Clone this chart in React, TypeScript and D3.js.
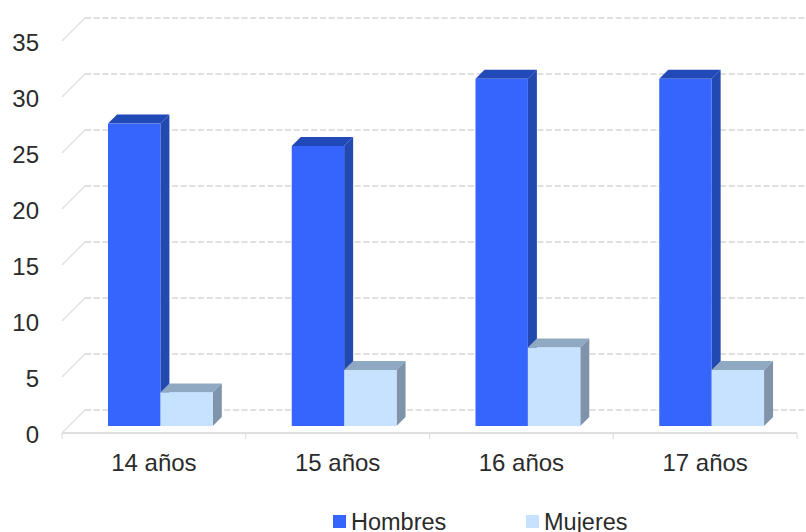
import React from "react";
import * as d3 from "d3";

const categories = ["14 años", "15 años", "16 años", "17 años"];
const hombres = [27, 25, 31, 31];
const mujeres = [3, 5, 7, 5];
const yTicks = [0, 5, 10, 15, 20, 25, 30, 35];
const legendItems = ["Hombres", "Mujeres"];

const W = 806, H = 532;
const FONT = "'Liberation Sans', Arial, sans-serif";
const TEXT = "#2b2b2b";
const BACK = 23;     // depth of the floor
const BAR_OFF = 7;   // distance of the bar front from the front plane
const DEPTH = 9;     // depth of a bar

const x = d3.scaleBand<string>().domain(categories).range([62, 797]);
const y = d3.scaleLinear().domain([0, 35]).range([433, 41]);
const barW = 52.4;

function Bar({ x0, v, front, top, side }: { x0: number; v: number; front: string; top: string; side: string }) {
  const yTop = y(v) - BAR_OFF;
  const yBase = y(0) - BAR_OFF;
  const x1 = x0 + barW;
  return (
    <g>
      <path d={`M${x0},${yTop}L${x0 + DEPTH},${yTop - DEPTH}L${x1 + DEPTH},${yTop - DEPTH}L${x1},${yTop}Z`} fill={top} />
      <path d={`M${x1},${yTop}L${x1 + DEPTH},${yTop - DEPTH}L${x1 + DEPTH},${yBase - DEPTH}L${x1},${yBase}Z`} fill={side} />
      <rect x={x0} y={yTop} width={barW} height={yBase - yTop} fill={front} />
    </g>
  );
}

export default function App() {
  const bw = x.bandwidth();
  return (
    <svg width={W} height={H} viewBox={`0 0 ${W} ${H}`} style={{ position: "absolute", left: 0, top: 0, background: "#fff" }}>
      <defs>
        <filter id="soft" x="-5%" y="-5%" width="110%" height="110%">
          <feGaussianBlur stdDeviation="0.4" />
        </filter>
      </defs>
      <g filter="url(#soft)">
        {yTicks.map((t) => (
          <g key={t}>
            <line x1={62} y1={y(t)} x2={62 + BACK} y2={y(t) - BACK} stroke="#e2e2e2" strokeWidth={1.4} />
            <line x1={62 + BACK} y1={y(t) - BACK} x2={W} y2={y(t) - BACK} stroke="#e0e0e0" strokeWidth={1.8} strokeDasharray="6 2.7" />
          </g>
        ))}
        <line x1={62} y1={y(0)} x2={797} y2={y(0)} stroke="#dfdfdf" strokeWidth={1.8} />
        {[...categories.map((c) => x(c) as number), 797].map((p) => (
          <line key={p} x1={p} y1={y(0)} x2={p} y2={y(0) + 6} stroke="#dfdfdf" strokeWidth={1.2} />
        ))}
        {categories.map((c, i) => {
          const c0 = (x(c) as number) + 46;
          return (
            <g key={c}>
              <Bar x0={c0} v={hombres[i]} front="#3565fd" top="#2448b8" side="#2448b0" />
              <Bar x0={c0 + barW} v={mujeres[i]} front="#c6e2ff" top="#90a9c3" side="#7f93aa" />
            </g>
          );
        })}
      </g>
      <g fontFamily={FONT} fontSize={24} fill={TEXT}>
        {yTicks.map((t) => (
          <text key={t} x={39} y={y(t) + 1} dy="0.36em" textAnchor="end">{t}</text>
        ))}
        {categories.map((c) => (
          <text key={c} x={(x(c) as number) + bw / 2} y={471} textAnchor="middle">{c}</text>
        ))}
      </g>
      <g fontFamily={FONT} fontSize={23.5} fill={TEXT}>
        {legendItems.map((l, i) => {
          const lx = 333 + i * 193;
          return (
            <g key={l}>
              <rect x={lx} y={515} width={13} height={13} fill={i === 0 ? "#3565fd" : "#c6e2ff"} />
              <text x={lx + 18} y={530}>{l}</text>
            </g>
          );
        })}
      </g>
    </svg>
  );
}
